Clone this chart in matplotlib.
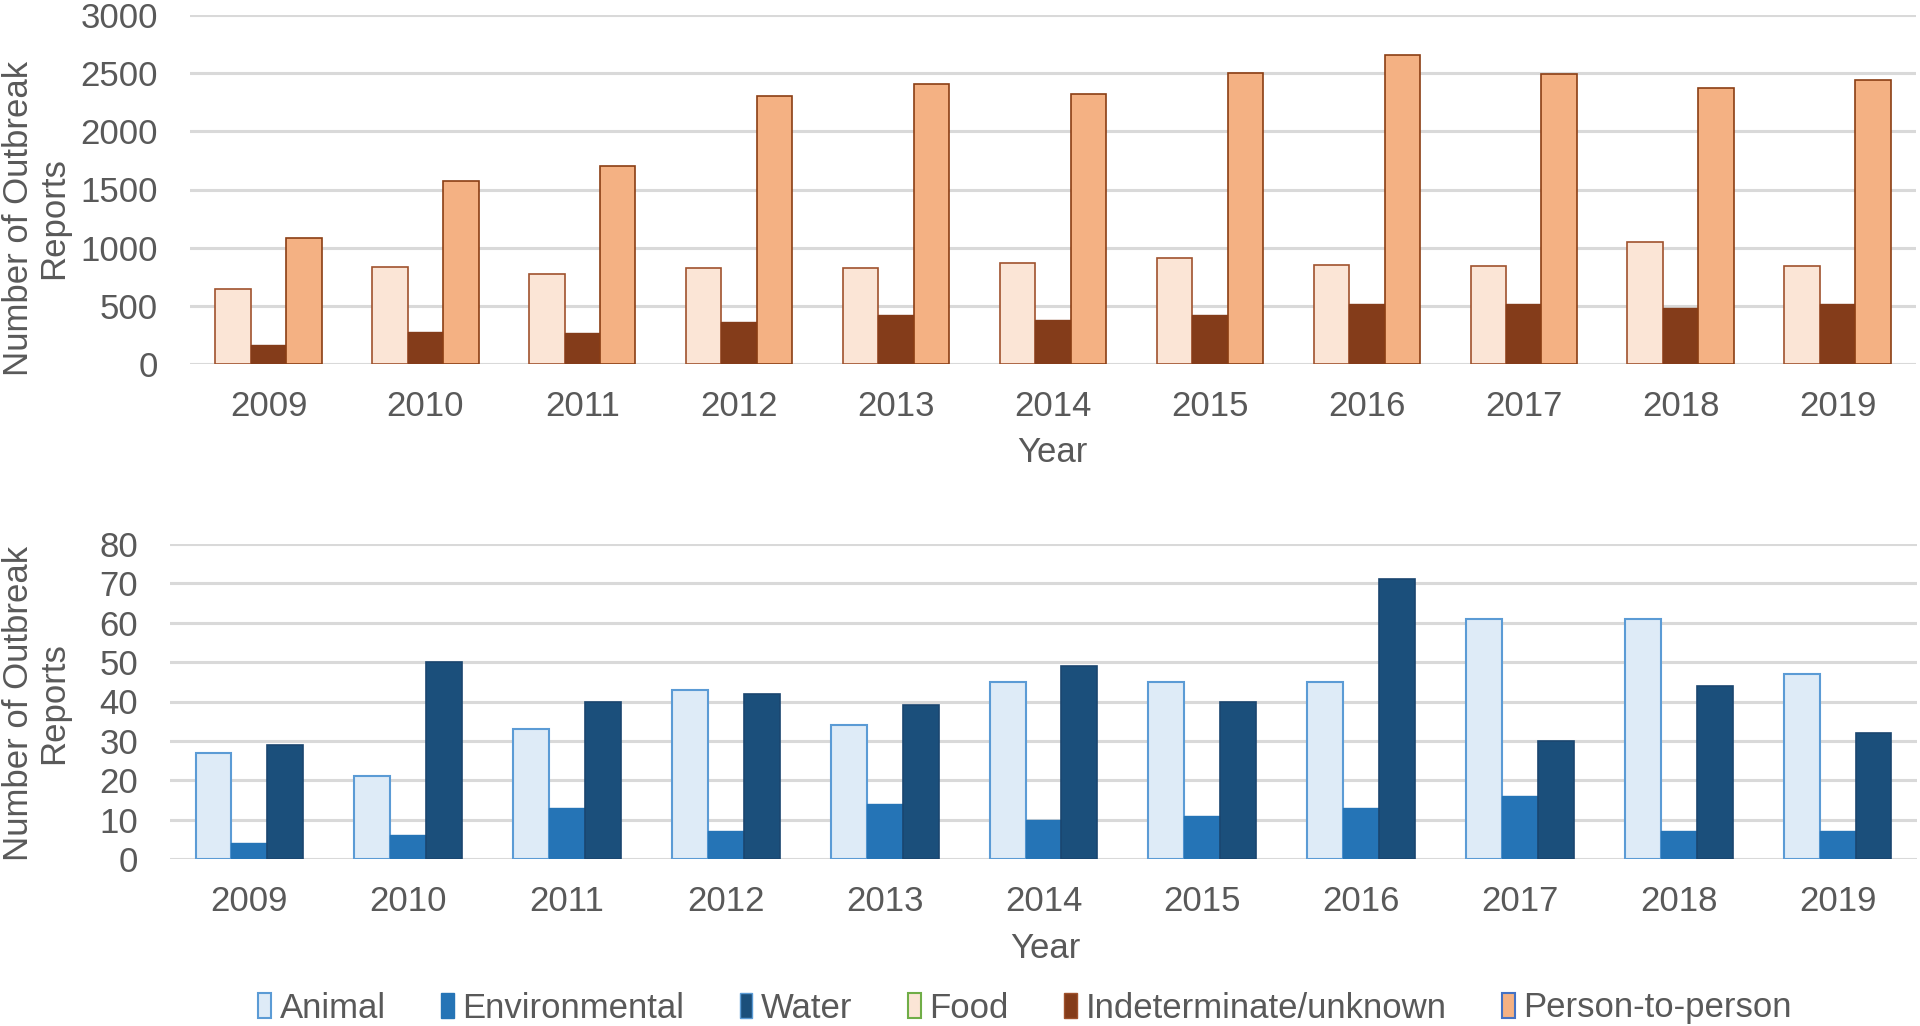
import matplotlib
matplotlib.use("Agg")
import matplotlib.pyplot as plt
from matplotlib.patches import Patch
import numpy as np

plt.rcParams['font.family'] = ['Liberation Sans', 'DejaVu Sans']

years = ["2009", "2010", "2011", "2012", "2013", "2014", "2015", "2016", "2017", "2018", "2019"]

# Top panel
food = [648, 837, 771, 828, 822, 868, 914, 848, 842, 1049, 845]
indeterminate = [160, 272, 269, 358, 421, 375, 421, 516, 519, 479, 519]
person_to_person = [1080, 1573, 1705, 2301, 2410, 2321, 2501, 2659, 2490, 2370, 2441]

# Bottom panel
animal = [27, 21, 33, 43, 34, 45, 45, 45, 61, 61, 47]
environmental = [4, 6, 13, 7, 14, 10, 11, 13, 16, 7, 7]
water = [29, 50, 40, 42, 39, 49, 40, 71, 30, 44, 32]

legend_labels = ["Animal", "Environmental", "Water", "Food", "Indeterminate/unknown", "Person-to-person"]

TXT = "#595959"
GRID = "#D9D9D9"
FS = 25

W, H = 1920, 1026
fig = plt.figure(figsize=(W / 100, H / 100), dpi=100)


def px_axes(left, top, right, bottom):
    return fig.add_axes([left / W, 1 - bottom / H, (right - left) / W, (bottom - top) / H])


def style_axes(ax, ymax, ystep, ypad):
    ax.set_xlim(-0.5, len(years) - 0.5)
    ax.set_ylim(0, ymax)
    ax.set_yticks(np.arange(0, ymax + 1, ystep))
    ax.set_xticks(np.arange(len(years)))
    ax.set_xticklabels(years)
    for s in ax.spines.values():
        s.set_visible(False)
    ax.grid(axis='y', color=GRID, linewidth=2.2, zorder=0)
    ax.set_axisbelow(True)
    ax.tick_params(axis='both', length=0, labelsize=FS, colors=TXT)
    ax.tick_params(axis='x', pad=19)
    ax.tick_params(axis='y', pad=ypad)


bw = 0.226
x = np.arange(len(years))

# ---- Top axes
ax1 = px_axes(190, 15, 1916, 364)
ax1.bar(x - bw, food, bw, color="#FBE5D6", edgecolor="#A0522D", linewidth=1.2, zorder=2)
ax1.bar(x, indeterminate, bw, color="#843C1A", edgecolor="#843C1A", linewidth=1.0, zorder=2)
ax1.bar(x + bw, person_to_person, bw, color="#F4B183", edgecolor="#8B3E14", linewidth=1.2, zorder=2)
style_axes(ax1, 3000, 500, 23)

# ---- Bottom axes
ax2 = px_axes(170, 544, 1917, 859)
ax2.bar(x - bw, animal, bw, color="#DEEBF7", edgecolor="#5B9BD5", linewidth=1.5, zorder=2)
ax2.bar(x, environmental, bw, color="#2574B6", edgecolor="#2574B6", linewidth=1.0, zorder=2)
ax2.bar(x + bw, water, bw, color="#1B4F7B", edgecolor="#1A4670", linewidth=1.2, zorder=2)
style_axes(ax2, 80, 10, 23)

# Axis titles
for yc in (218, 703):
    fig.text(36 / W, 1 - yc / H, "Number of Outbreak\nReports", rotation=90,
             ha='center', va='center', multialignment='center',
             fontsize=FS, color=TXT, linespacing=1.08)
fig.text(1052 / W, 1 - 452 / H, "Year", ha='center', va='center', fontsize=FS, color=TXT)
fig.text(1045 / W, 1 - 948 / H, "Year", ha='center', va='center', fontsize=FS, color=TXT)

# Legend
handles = [
    Patch(facecolor="#DEEBF7", edgecolor="#5B9BD5", linewidth=1.5),
    Patch(facecolor="#2574B6", edgecolor="#2574B6", linewidth=1.0),
    Patch(facecolor="#1B4F7B", edgecolor="#5B9BD5", linewidth=1.0),
    Patch(facecolor="#FBE5D6", edgecolor="#70AD47", linewidth=1.5),
    Patch(facecolor="#843C1A", edgecolor="#A0522D", linewidth=1.0),
    Patch(facecolor="#F4B183", edgecolor="#4472C4", linewidth=1.5),
]
leg = fig.legend(handles, legend_labels, loc='center', ncol=6,
                 bbox_to_anchor=(1025 / W, 1 - 1008 / H), frameon=False,
                 fontsize=FS, handlelength=0.36, handleheight=0.75,
                 handletextpad=0.25, columnspacing=1.6, borderpad=0)
for t in leg.get_texts():
    t.set_color(TXT)

fig.savefig("out.png", dpi=100, facecolor="white")
